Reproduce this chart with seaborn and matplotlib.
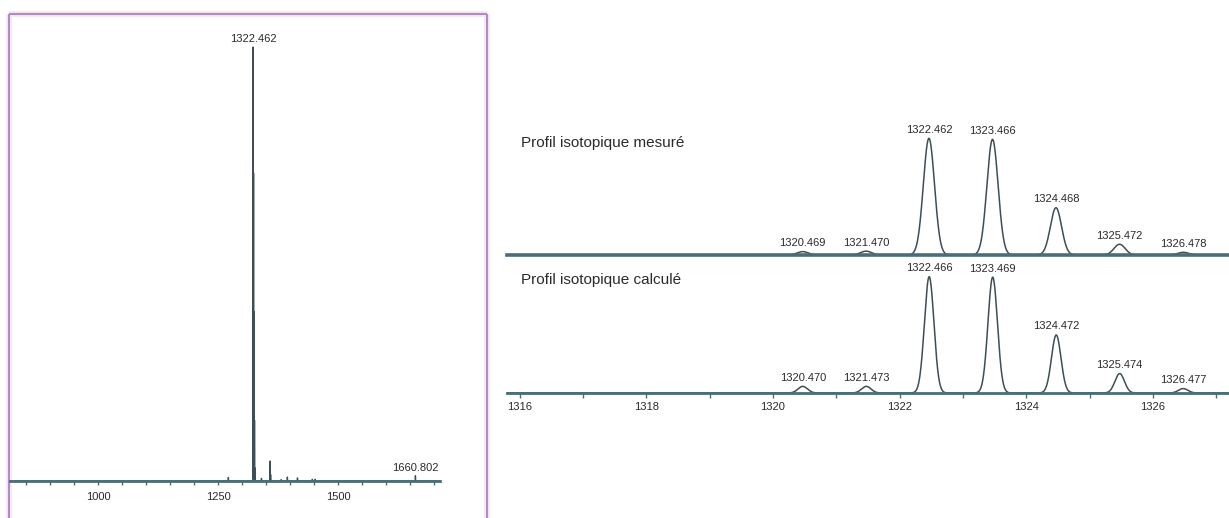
import numpy as np
import pandas as pd
import matplotlib
matplotlib.use("Agg")
import matplotlib.pyplot as plt
from matplotlib.lines import Line2D
from matplotlib.ticker import FixedLocator, MultipleLocator
import seaborn as sns

# Full-range spectrum: centroid m/z and relative intensity (%)
full_mz = [1271.0, 1322.462, 1323.466, 1324.468, 1325.472, 1326.478,
           1340.0, 1358.0, 1359.0, 1381.0, 1394.0, 1415.0, 1446.0, 1452.0,
           1660.802]
full_int = [0.8, 100.0, 71.0, 39.0, 14.0, 3.0,
            0.6, 4.6, 1.5, 0.3, 0.9, 0.7, 0.4, 0.4,
            1.2]
full_labelled = ["1322.462", "1660.802"]
full_ticks = [1000, 1250, 1500]

# Isotopic cluster, measured
meas_mz = [1320.469, 1321.470, 1322.462, 1323.466, 1324.468, 1325.472, 1326.478]
meas_int = [2.9, 3.3, 100.0, 99.1, 40.5, 9.2, 2.3]
meas_title = "Profil isotopique mesuré"

# Isotopic cluster, calculated
calc_mz = [1320.470, 1321.473, 1322.466, 1323.469, 1324.472, 1325.474, 1326.477]
calc_int = [5.7, 5.7, 100.0, 99.6, 49.9, 16.7, 3.8]
calc_title = "Profil isotopique calculé"

zoom_ticks = [1316, 1318, 1320, 1322, 1324, 1326]

W, H = 1229, 518
LINE = "#3d4f55"
AXIS = "#4a6e77"
TEXT = "#2a2a2a"

sns.set_theme(style="white")
plt.rcParams["font.family"] = ["Liberation Sans", "DejaVu Sans"]


def peak_profile(x, centers, heights, width):
    """Sum of Gaussian peak shapes centred on each centroid."""
    y = np.zeros_like(x)
    for c, h in zip(centers, heights):
        y += h * np.exp(-0.5 * ((x - c) / width) ** 2)
    return y


def frac(x, y):
    return x / W, 1 - y / H


fig = plt.figure(figsize=(W / 100, H / 100), dpi=100)
fig.patch.set_facecolor("white")

# ---- framed panel on the left ------------------------------------------
for lw, col in [(4.0, "#f8e2ee"), (1.4, "#a88cc6")]:
    for xs, ys in [((9, 9), (14, 518)), ((9, 487), (14, 14)), ((487, 487), (14, 518))]:
        (x0, y0), (x1, y1) = frac(xs[0], ys[0]), frac(xs[1], ys[1])
        fig.add_artist(Line2D([x0, x1], [y0, y1], transform=fig.transFigure,
                              color=col, lw=lw, solid_capstyle="butt", zorder=0))

ax_full = fig.add_axes([10 / W, (H - 481) / H, 430 / W, 461 / H])
xf = np.arange(816.0, 1712.0, 0.01)
df_full = pd.DataFrame({"mz": xf, "intensity": peak_profile(xf, full_mz, full_int, 0.15)})
sns.lineplot(data=df_full, x="mz", y="intensity", ax=ax_full, color=LINE,
             lw=1.0, estimator=None, sort=False)
ax_full.set_xlim(816, 1712)
ax_full.set_ylim(0, 100 * 461 / 434)
for mz, h in zip(full_mz, full_int):
    lab = f"{mz:.3f}"
    if lab in full_labelled:
        ax_full.annotate(lab, (mz, h), xytext=(0, 2), textcoords="offset points",
                         ha="center", va="bottom", fontsize=8, color=TEXT)

ax_full.xaxis.set_major_locator(FixedLocator(full_ticks))
ax_full.xaxis.set_minor_locator(MultipleLocator(50))
ax_full.tick_params(axis="x", which="both", direction="out", length=3, width=1,
                    color=AXIS, bottom=True, labelsize=8, labelcolor=TEXT, pad=5)
ax_full.set_yticks([])

# ---- zoomed isotopic profiles on the right -------------------------------
xz = np.arange(1315.8, 1327.2, 0.002)
ax_meas = fig.add_axes([507 / W, (H - 255) / H, (W - 507) / W, 135 / H])
ax_calc = fig.add_axes([507 / W, (H - 393) / H, (W - 507) / W, 135 / H])

for ax, mzs, ints, width, top_px, title, ty in [
        (ax_meas, meas_mz, meas_int, 0.088, 116.7, meas_title, 143),
        (ax_calc, calc_mz, calc_int, 0.075, 116.3, calc_title, 280)]:
    df = pd.DataFrame({"mz": xz, "intensity": peak_profile(xz, mzs, ints, width)})
    sns.lineplot(data=df, x="mz", y="intensity", ax=ax, color=LINE, lw=1.1,
                 estimator=None, sort=False)
    ax.set_xlim(1315.8, 1327.2)
    ax.set_ylim(0, 100 * 135 / top_px)
    for mz, h in zip(mzs, ints):
        ax.annotate(f"{mz:.3f}", (mz, h), xytext=(0, 2.5), textcoords="offset points",
                    ha="center", va="bottom", fontsize=8, color=TEXT)
    tx, tyf = frac(521, ty)
    fig.text(tx, tyf, title, fontsize=11, color=TEXT, ha="left", va="center")
    ax.set_yticks([])

ax_meas.set_xticks([])
ax_calc.xaxis.set_major_locator(FixedLocator(zoom_ticks))
ax_calc.xaxis.set_minor_locator(MultipleLocator(1))
ax_calc.tick_params(axis="x", which="both", direction="out", length=3.5, width=1,
                    color=AXIS, bottom=True, labelsize=8, labelcolor=TEXT, pad=3)

for ax, lw in [(ax_full, 2.0), (ax_meas, 2.6), (ax_calc, 2.0)]:
    ax.set_facecolor("none")
    ax.set_xlabel("")
    ax.set_ylabel("")
    for side in ["left", "right", "top"]:
        ax.spines[side].set_visible(False)
    ax.spines["bottom"].set_color(AXIS)
    ax.spines["bottom"].set_linewidth(lw)

fig.savefig("out.png", dpi=100, facecolor="white")
